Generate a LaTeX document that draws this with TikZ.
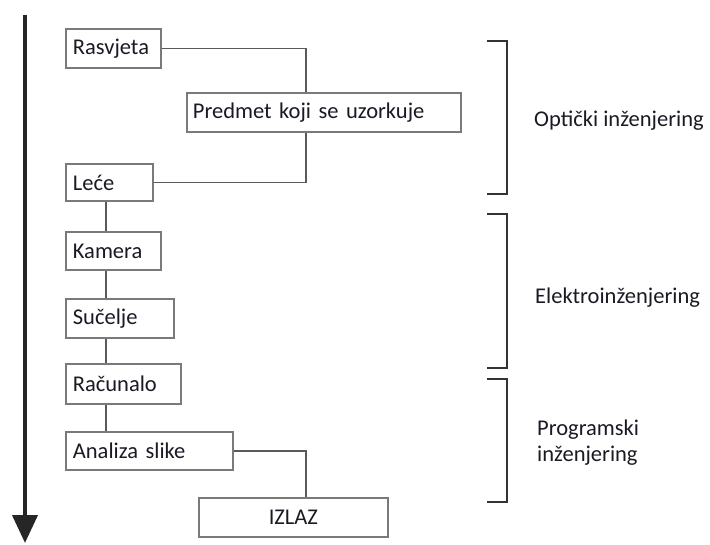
\documentclass[tikz,border=0pt]{standalone}
\usepackage{fontspec}
\setmainfont{Carlito}
\usetikzlibrary{arrows.meta}
\definecolor{boxline}{HTML}{7A7A7A}
\definecolor{linkline}{HTML}{5A5A5A}
\definecolor{brace}{HTML}{333333}
\definecolor{ink}{HTML}{1A1A24}
\tikzset{
  stage/.style={draw=boxline, line width=1.8pt, fill=white, rectangle,
    anchor=north west, inner xsep=7pt, inner ysep=0pt, align=left,
    text=ink, font=\fontsize{22.5}{26}\selectfont},
  link/.style={draw=linkline, line width=1.5pt},
  bracket/.style={draw=brace, line width=2.6pt},
  field/.style={anchor=west, inner sep=0pt, align=left, text=ink,
    font=\fontsize{22.5}{26}\selectfont},
}
\begin{document}
\begin{tikzpicture}[x=1pt,y=1pt]
\useasboundingbox (0,0) rectangle (710,-545);

% time axis
\draw[line width=4pt, black!85, -{Triangle[length=28pt,width=25pt]}] (25,-15) -- (25,-543);

% junction columns for the connectors
\coordinate (jr) at (306,0);
\coordinate (jl) at (106,0);

% processing stages
\node[stage, minimum height=39pt, text width=81pt] (ras) at (65,-28) {Rasvjeta};
\node[stage, minimum height=39pt, text width=262pt, inner xsep=6pt] (pred) at (186,-92) {Predmet koji se uzorkuje};
\node[stage, minimum height=37pt, text width=73pt] (lece) at (65,-163) {Leće};
\node[stage, minimum height=38pt, text width=81pt] (kam) at (65,-231) {Kamera};
\node[stage, minimum height=39pt, text width=94pt] (suc) at (65,-298) {Sučelje};
\node[stage, minimum height=40pt, text width=101pt] (rac) at (65,-363) {Računalo};
\node[stage, minimum height=38pt, text width=153pt] (ana) at (65,-431) {Analiza slike};
\node[stage, minimum height=39pt, text width=175pt, align=center] (izl) at (198,-497) {IZLAZ};

% connectors
\draw[link] (ras.east) -| (jr |- pred.north);
\draw[link] (jr |- pred.south) |- (lece.east);
\draw[link] (jl |- lece.south) -- (jl |- kam.north);
\draw[link] (jl |- kam.south) -- (jl |- suc.north);
\draw[link] (jl |- suc.south) -- (jl |- rac.north);
\draw[link] (jl |- rac.south) -- (jl |- ana.north);
\draw[link] (ana.east) -| (izl.north -| jr);

% discipline brackets
\draw[bracket] (487,-41) -- (507,-41) -- (507,-194) -- (487,-194);
\draw[bracket] (487,-214) -- (507,-214) -- (507,-368) -- (487,-368);
\draw[bracket] (487,-379) -- (507,-379) -- (507,-502) -- (487,-502);

% discipline labels
\node[field] (opt) at (534,-121) {Optički inženjering};
\node[field] (ele) at (535,-298) {Elektroinženjering};
\node[field] (prog) at (537,-443) {Programski\\inženjering};
\end{tikzpicture}
\end{document}
